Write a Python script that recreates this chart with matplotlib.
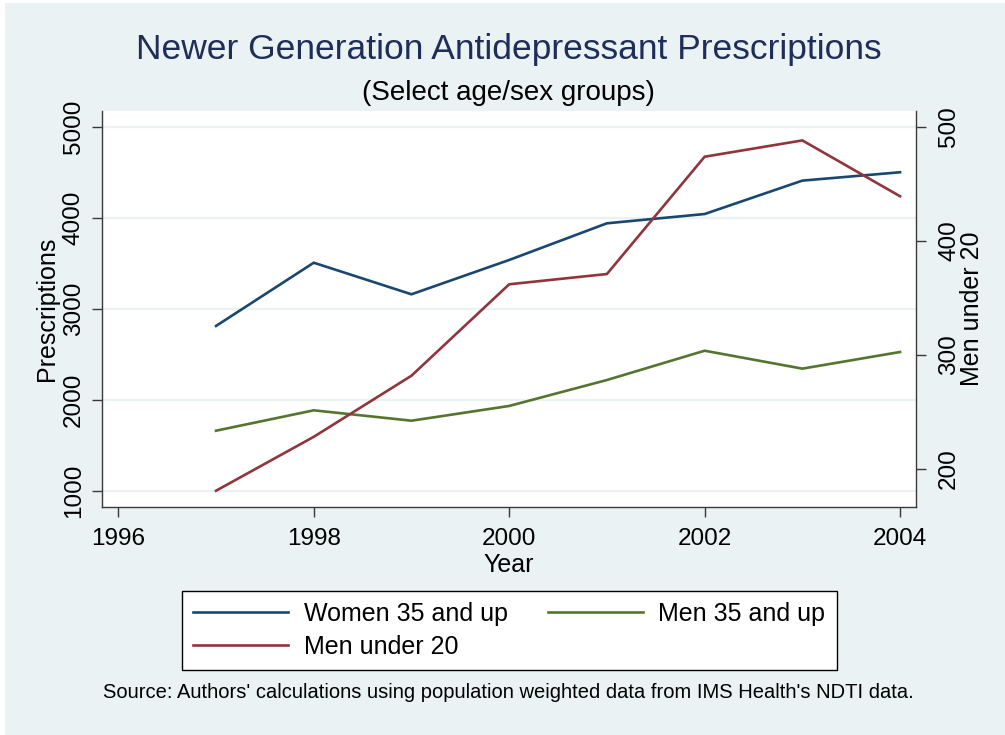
import numpy as np
import matplotlib
matplotlib.use("Agg")
import matplotlib.pyplot as plt
from matplotlib.patches import Rectangle

plt.rcParams['font.family'] = ['Liberation Sans', 'DejaVu Sans']

years = [1997, 1998, 1999, 2000, 2001, 2002, 2003, 2004]
women_35_up = [2810, 3505, 3158, 3535, 3938, 4040, 4407, 4499]
men_35_up = [1659, 1883, 1769, 1931, 2216, 2538, 2341, 2524]
men_under_20 = [180.7, 228, 281.6, 361.8, 370.8, 473.7, 488, 439]

x_ticks = [1996, 1998, 2000, 2002, 2004]
left_ticks = [1000, 2000, 3000, 4000, 5000]
right_ticks = [200, 300, 400, 500]

bg = '#EAF2F3'
navy = '#1a476f'
maroon = '#90353b'
green = '#55752f'
axcol = '#3a3a3a'

fig = plt.figure(figsize=(10.05, 7.35), dpi=100, facecolor='white')
fig.patches.append(Rectangle((5 / 1005, 0), 1, 1 - 3 / 735, transform=fig.transFigure,
                             facecolor=bg, edgecolor='none', zorder=-10))

ax = fig.add_axes([101.7 / 1005, 1 - 506.7 / 735, (915.7 - 101.7) / 1005, (506.7 - 111) / 735])
ax.set_facecolor('white')
ax2 = ax.twinx()

l1, = ax.plot(years, women_35_up, color=navy, lw=1.9, solid_joinstyle='miter')
l2, = ax.plot(years, men_35_up, color=green, lw=1.9, solid_joinstyle='miter')
l3, = ax2.plot(years, men_under_20, color=maroon, lw=1.9, solid_joinstyle='miter')

ax.set_xlim(1995.83, 2004.16)
ax.set_ylim(824, 5172)
ax2.set_ylim(166.7, 513.8)

ax.set_xticks(x_ticks)
ax.set_yticks(left_ticks)
ax2.set_yticks(right_ticks)
ax.grid(axis='y', color=bg, lw=1.6)
ax.set_axisbelow(True)

for a in (ax, ax2):
    for s in a.spines.values():
        s.set_color(axcol)
        s.set_linewidth(1.0)
    a.spines['top'].set_visible(False)
ax.spines['right'].set_visible(False)
ax2.spines['left'].set_visible(False)
ax2.spines['bottom'].set_visible(False)

ax.tick_params(axis='both', length=7.2, width=1.0, color=axcol, labelsize=17.5, pad=5)
ax.tick_params(axis='x', pad=8)
ax2.tick_params(axis='y', length=7.2, width=1.0, color=axcol, labelsize=17.5, pad=9)
for t in ax.get_yticklabels():
    t.set_rotation(90)
    t.set_va('center')
for t in ax2.get_yticklabels():
    t.set_rotation(90)
    t.set_va('center')

ax.set_xlabel('Year', fontsize=18, labelpad=2)
ax.set_ylabel('Prescriptions', fontsize=18, labelpad=2.5)
ax2.set_ylabel('Men under 20', fontsize=18, labelpad=0)

fig.text(0.506, 1 - 50 / 735, 'Newer Generation Antidepressant Prescriptions',
         ha='center', va='center', fontsize=25.5, color='#1E2E58')
fig.text(0.506, 1 - 93 / 735, '(Select age/sex groups)',
         ha='center', va='center', fontsize=20, color='black')

leg = fig.legend([l1, l3, l2], ['Women 35 and up', 'Men under 20', 'Men 35 and up'],
                 ncol=2, loc='center', bbox_to_anchor=(509 / 1005, 1 - 630.4 / 735),
                 fontsize=18, handlelength=3.8, handletextpad=0.63, columnspacing=1.6,
                 labelspacing=0.35, borderpad=0.45, fancybox=False, frameon=True)
leg.get_frame().set_edgecolor('black')
leg.get_frame().set_linewidth(1.0)
leg.get_frame().set_facecolor('white')
leg.get_frame().set_alpha(1)

fig.text(0.506, 1 - 693 / 735,
         "Source: Authors' calculations using population weighted data from IMS Health's NDTI data.",
         ha='center', va='center', fontsize=14.5, color='black')

fig.savefig('out.png', dpi=100, facecolor=fig.get_facecolor())
